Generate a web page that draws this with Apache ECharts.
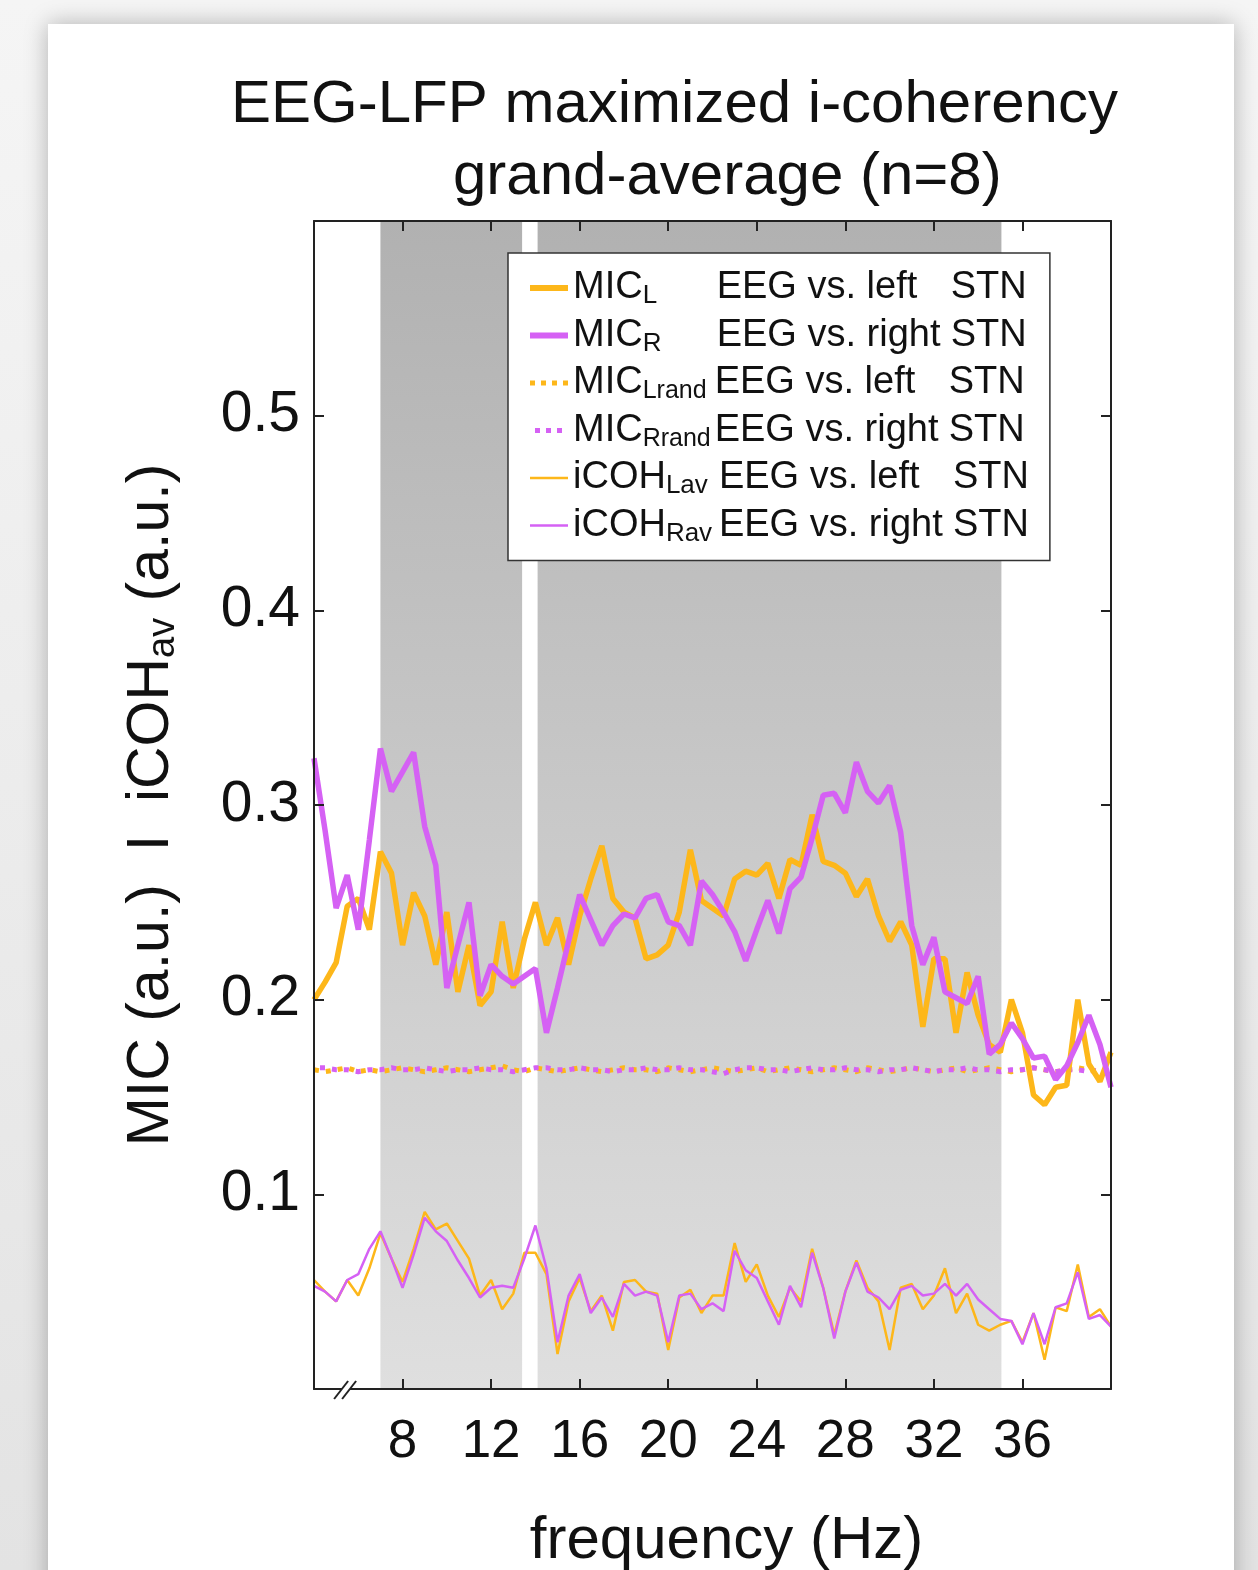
<!DOCTYPE html>
<html>
<head>
<meta charset="utf-8">
<script src="https://cdn.jsdelivr.net/npm/echarts@6/dist/echarts.min.js"></script>
<style>
html, body { margin: 0; padding: 0; }
body { width: 1258px; height: 1570px; background: linear-gradient(#f5f5f5, #e3e3e3); position: relative; overflow: hidden; }
#card { position: absolute; left: 48px; top: 24px; width: 1186px; height: 1600px; background: #fff; box-shadow: 0 0 22px rgba(0,0,0,0.28); }
#myChart { position: absolute; left: 0; top: 0; width: 1258px; height: 1570px; }
</style>
</head>
<body>
<div id="card"></div>
<div id="myChart"></div>
<script>
// frequency axis (Hz), 0.5 Hz steps
const freq = [
  4, 4.5, 5, 5.5, 6, 6.5, 7, 7.5, 8, 8.5,
  9, 9.5, 10, 10.5, 11, 11.5, 12, 12.5, 13, 13.5,
  14, 14.5, 15, 15.5, 16, 16.5, 17, 17.5, 18, 18.5,
  19, 19.5, 20, 20.5, 21, 21.5, 22, 22.5, 23, 23.5,
  24, 24.5, 25, 25.5, 26, 26.5, 27, 27.5, 28, 28.5,
  29, 29.5, 30, 30.5, 31, 31.5, 32, 32.5, 33, 33.5,
  34, 34.5, 35, 35.5, 36, 36.5, 37, 37.5, 38, 38.5,
  39, 39.5, 40
]
// MIC, EEG vs. left STN
const micL = [
  0.200, 0.209, 0.219, 0.248, 0.252, 0.236, 0.276, 0.265, 0.228, 0.255,
  0.243, 0.218, 0.245, 0.204, 0.228, 0.197, 0.204, 0.240, 0.206, 0.231,
  0.250, 0.228, 0.242, 0.218, 0.243, 0.262, 0.279, 0.252, 0.245, 0.242,
  0.221, 0.223, 0.228, 0.245, 0.277, 0.251, 0.247, 0.243, 0.262, 0.266,
  0.264, 0.270, 0.252, 0.272, 0.269, 0.295, 0.271, 0.269, 0.265, 0.253,
  0.262, 0.243, 0.230, 0.240, 0.228, 0.186, 0.221, 0.221, 0.183, 0.214,
  0.192, 0.177, 0.173, 0.200, 0.183, 0.151, 0.146, 0.155, 0.156, 0.200,
  0.167, 0.158, 0.173
]
// MIC, EEG vs. right STN
const micR = [
  0.324, 0.287, 0.247, 0.264, 0.236, 0.282, 0.329, 0.307, 0.317, 0.327,
  0.289, 0.269, 0.206, 0.228, 0.250, 0.202, 0.218, 0.212, 0.208, 0.212,
  0.216, 0.183, 0.206, 0.230, 0.254, 0.241, 0.228, 0.238, 0.244, 0.242,
  0.252, 0.254, 0.240, 0.238, 0.228, 0.261, 0.254, 0.245, 0.235, 0.220,
  0.236, 0.251, 0.234, 0.257, 0.263, 0.283, 0.305, 0.306, 0.296, 0.322,
  0.307, 0.301, 0.310, 0.286, 0.238, 0.218, 0.232, 0.204, 0.201, 0.198,
  0.212, 0.172, 0.177, 0.188, 0.180, 0.170, 0.171, 0.159, 0.166, 0.178,
  0.192, 0.177, 0.155
]
// MIC of randomized data
const micLrand = [
  0.164, 0.163, 0.164, 0.165, 0.163, 0.164, 0.163, 0.164, 0.165, 0.164,
  0.163, 0.164, 0.165, 0.164, 0.163, 0.164, 0.165, 0.166, 0.164, 0.163,
  0.165, 0.164, 0.163, 0.164, 0.165, 0.164, 0.163, 0.164, 0.165, 0.164,
  0.164, 0.163, 0.165, 0.164, 0.163, 0.164, 0.165, 0.164, 0.163, 0.164,
  0.165, 0.163, 0.164, 0.165, 0.164, 0.163, 0.164, 0.165, 0.164, 0.163,
  0.165, 0.164, 0.163, 0.164, 0.165, 0.164, 0.163, 0.164, 0.165, 0.163,
  0.164, 0.165, 0.164, 0.163, 0.164, 0.165, 0.164, 0.163, 0.164, 0.165,
  0.164, 0.163, 0.164
]
const micRrand = [
  0.165, 0.165, 0.164, 0.164, 0.163, 0.164, 0.164, 0.165, 0.164, 0.164,
  0.165, 0.164, 0.163, 0.164, 0.164, 0.165, 0.164, 0.164, 0.163, 0.164,
  0.165, 0.165, 0.164, 0.164, 0.165, 0.164, 0.164, 0.163, 0.164, 0.164,
  0.165, 0.164, 0.164, 0.165, 0.164, 0.164, 0.163, 0.162, 0.164, 0.165,
  0.165, 0.164, 0.164, 0.163, 0.164, 0.165, 0.164, 0.164, 0.165, 0.164,
  0.164, 0.163, 0.164, 0.164, 0.165, 0.164, 0.163, 0.164, 0.164, 0.165,
  0.164, 0.164, 0.163, 0.164, 0.164, 0.165, 0.164, 0.163, 0.164, 0.164,
  0.163, 0.164, 0.164
]
// averaged imaginary coherency
const icohL = [
  0.056, 0.050, 0.045, 0.056, 0.048, 0.062, 0.080, 0.067, 0.055, 0.072,
  0.091, 0.082, 0.085, 0.076, 0.067, 0.048, 0.056, 0.041, 0.049, 0.070,
  0.070, 0.059, 0.018, 0.045, 0.057, 0.040, 0.048, 0.030, 0.055, 0.056,
  0.050, 0.049, 0.020, 0.047, 0.051, 0.039, 0.048, 0.048, 0.075, 0.055,
  0.064, 0.048, 0.037, 0.052, 0.045, 0.072, 0.052, 0.028, 0.050, 0.066,
  0.052, 0.045, 0.020, 0.052, 0.054, 0.041, 0.048, 0.062, 0.039, 0.049,
  0.033, 0.030, 0.033, 0.035, 0.024, 0.039, 0.015, 0.042, 0.040, 0.064,
  0.037, 0.041, 0.032
]
const icohR = [
  0.053, 0.050, 0.045, 0.056, 0.059, 0.072, 0.081, 0.067, 0.052, 0.069,
  0.088, 0.081, 0.076, 0.066, 0.057, 0.047, 0.052, 0.053, 0.052, 0.067,
  0.084, 0.062, 0.024, 0.048, 0.059, 0.039, 0.047, 0.037, 0.054, 0.048,
  0.050, 0.048, 0.024, 0.048, 0.049, 0.041, 0.044, 0.040, 0.071, 0.061,
  0.057, 0.045, 0.033, 0.053, 0.042, 0.070, 0.052, 0.026, 0.050, 0.065,
  0.050, 0.047, 0.041, 0.051, 0.053, 0.048, 0.049, 0.054, 0.048, 0.054,
  0.046, 0.041, 0.036, 0.035, 0.023, 0.039, 0.023, 0.042, 0.044, 0.060,
  0.036, 0.038, 0.032
]
// shaded frequency bands (Hz)
const bands = [[7, 13.4], [14.1, 35.05]]

const font = 'Liberation Sans, Arial, Helvetica, sans-serif'
const orange = '#FDB71A'
const purple = '#D561F4'
const ink = '#111'

const pairs = (ys) => ys.map((v, i) => [freq[i], v])

const legendText = {
  MIC_L: '{m|MIC}{s1|L}{e|EEG vs. left}{t|STN}',
  MIC_R: '{m|MIC}{s1|R}{e|EEG vs. right}{t|STN}',
  MIC_Lrand: '{m|MIC}{s2|Lrand}{e|EEG vs. left}{t|STN}',
  MIC_Rrand: '{m|MIC}{s2|Rrand}{e|EEG vs. right}{t|STN}',
  iCOH_Lav: '{m|iCOH}{s3|Lav}{e|EEG vs. left}{t|STN}',
  iCOH_Rav: '{m|iCOH}{s3|Rav}{e|EEG vs. right}{t|STN}'
}

// box round the plot: every axis draws its line and inward ticks,
// onZero off so the top x axis stays at the top
const frameAxis = (pos, min, max, interval) => ({
  type: 'value', min: min, max: max, interval: interval, position: pos, z: 10,
  axisLine: { onZero: false, lineStyle: { color: '#222', width: 2 } },
  axisTick: { show: true, inside: true, length: 10, lineStyle: { color: '#222', width: 2 } },
  axisLabel: { show: false },
  splitLine: { show: false }
})

let myChart = echarts.init(document.getElementById('myChart'))

let option = {
  animation: false,
  textStyle: { fontFamily: font },
  title: [
    {
      text: 'EEG-LFP maximized i-coherency',
      left: 231, top: 72, padding: 0,
      textStyle: { fontSize: 60, fontWeight: 'normal', color: ink, fontFamily: font, lineHeight: 66 }
    },
    {
      text: 'grand-average (n=8)',
      left: 453, top: 144, padding: 0,
      textStyle: { fontSize: 60, fontWeight: 'normal', color: ink, fontFamily: font, lineHeight: 66 }
    }
  ],
  grid: { left: 314, right: 147, top: 221, bottom: 181, outerBoundsMode: 'none' },
  legend: {
    data: [
      { name: 'MIC_L', lineStyle: { width: 6 } },
      { name: 'MIC_R', lineStyle: { width: 6 } },
      { name: 'MIC_Lrand', lineStyle: { width: 5, type: [5, 6] } },
      { name: 'MIC_Rrand', lineStyle: { width: 5, type: [5, 6] } },
      { name: 'iCOH_Lav', lineStyle: { width: 2.5 } },
      { name: 'iCOH_Rav', lineStyle: { width: 2.5 } }
    ],
    orient: 'vertical',
    left: 508, top: 253,
    padding: [16, 21, 14, 19],
    itemGap: 7.5,
    itemWidth: 38,
    itemHeight: 14,
    backgroundColor: '#fff',
    borderColor: '#333',
    borderWidth: 1.5,
    selectedMode: false,
    itemStyle: { opacity: 0 },
    formatter: (name) => legendText[name],
    textStyle: {
      color: ink,
      fontFamily: font,
      rich: {
        m: { fontSize: 38, lineHeight: 42, verticalAlign: 'middle', color: ink, fontFamily: font },
        s1: { fontSize: 26, lineHeight: 20, verticalAlign: 'bottom', width: 74, color: ink, fontFamily: font },
        s2: { fontSize: 25, lineHeight: 20, verticalAlign: 'bottom', width: 72, color: ink, fontFamily: font },
        s3: { fontSize: 26, lineHeight: 10, verticalAlign: 'bottom', width: 53, color: ink, fontFamily: font },
        e: { fontSize: 38, lineHeight: 42, verticalAlign: 'middle', width: 234, color: ink, fontFamily: font },
        t: { fontSize: 38, lineHeight: 42, verticalAlign: 'middle', color: ink, fontFamily: font }
      }
    }
  },
  xAxis: [
    Object.assign(frameAxis('bottom', 4, 40, 4), {
      axisLabel: { showMinLabel: false, showMaxLabel: false, fontSize: 53, color: ink, margin: 27, fontFamily: font },
      name: 'frequency (Hz)', nameLocation: 'middle', nameGap: 122,
      nameTextStyle: { fontSize: 60, color: ink, fontFamily: font, padding: [0, 0, 0, 28] }
    }),
    frameAxis('top', 4, 40, 4)
  ],
  yAxis: [
    Object.assign(frameAxis('left', 0, 0.6, 0.1), {
      axisLabel: { showMinLabel: false, showMaxLabel: false, fontSize: 57, color: ink, margin: 14, fontFamily: font },
      name: 'MIC (a.u.)  I  iCOH{sub|av} (a.u.)', nameLocation: 'middle', nameGap: 162, nameRotate: 90,
      nameTextStyle: {
        fontSize: 59, color: ink, fontFamily: font, lineHeight: 62, verticalAlign: 'middle',
        rich: { sub: { fontSize: 38, lineHeight: 26, verticalAlign: 'bottom', color: ink, fontFamily: font } }
      }
    }),
    frameAxis('right', 0, 0.6, 0.1)
  ],
  series: [
    {
      name: 'bands', type: 'line', data: [], z: 1, silent: true,
      markArea: {
        silent: true,
        itemStyle: {
          color: {
            type: 'linear', x: 0, y: 0, x2: 0, y2: 1,
            colorStops: [{ offset: 0, color: '#b1b1b1' }, { offset: 1, color: '#dfdfdf' }]
          }
        },
        data: bands.map(b => [{ xAxis: b[0] }, { xAxis: b[1] }])
      }
    },
    {
      name: 'MIC_Lrand', type: 'line', data: pairs(micLrand), symbol: 'circle', showSymbol: false, z: 3,
      lineStyle: { color: orange, width: 5, type: [5, 7], cap: 'butt' }, itemStyle: { color: orange }
    },
    {
      name: 'MIC_Rrand', type: 'line', data: pairs(micRrand), symbol: 'circle', showSymbol: false, z: 3,
      lineStyle: { color: purple, width: 5, type: [5, 7], dashOffset: 6, cap: 'butt' }, itemStyle: { color: purple }
    },
    {
      name: 'iCOH_Lav', type: 'line', data: pairs(icohL), symbol: 'circle', showSymbol: false, z: 3,
      lineStyle: { color: orange, width: 2.5 }, itemStyle: { color: orange }
    },
    {
      name: 'iCOH_Rav', type: 'line', data: pairs(icohR), symbol: 'circle', showSymbol: false, z: 3,
      lineStyle: { color: purple, width: 2.5 }, itemStyle: { color: purple }
    },
    {
      name: 'MIC_L', type: 'line', data: pairs(micL), symbol: 'circle', showSymbol: false, z: 4,
      lineStyle: { color: orange, width: 5.5 }, itemStyle: { color: orange }
    },
    {
      name: 'MIC_R', type: 'line', data: pairs(micR), symbol: 'circle', showSymbol: false, z: 4,
      lineStyle: { color: purple, width: 5.5 }, itemStyle: { color: purple }
    }
  ]
}
myChart.setOption(option)

// axis break mark "//" on the bottom axis
const brk = myChart.convertToPixel({ xAxisIndex: 0, yAxisIndex: 0 }, [5.45, 0])
myChart.setOption({
  graphic: [
    {
      type: 'polygon', z: 20,
      shape: { points: [[brk[0] - 11, brk[1] + 9], [brk[0] - 3, brk[1] + 9], [brk[0] + 11, brk[1] - 9], [brk[0] + 3, brk[1] - 9]] },
      style: { fill: '#fff' }
    },
    { type: 'line', z: 21, shape: { x1: brk[0] - 12, y1: brk[1] + 10, x2: brk[0] + 2, y2: brk[1] - 8 }, style: { stroke: '#222', lineWidth: 2 } },
    { type: 'line', z: 21, shape: { x1: brk[0] - 4, y1: brk[1] + 10, x2: brk[0] + 10, y2: brk[1] - 8 }, style: { stroke: '#222', lineWidth: 2 } }
  ]
})

window.addEventListener('resize', () => {
  myChart.resize()
})
</script>
</body>
</html>
